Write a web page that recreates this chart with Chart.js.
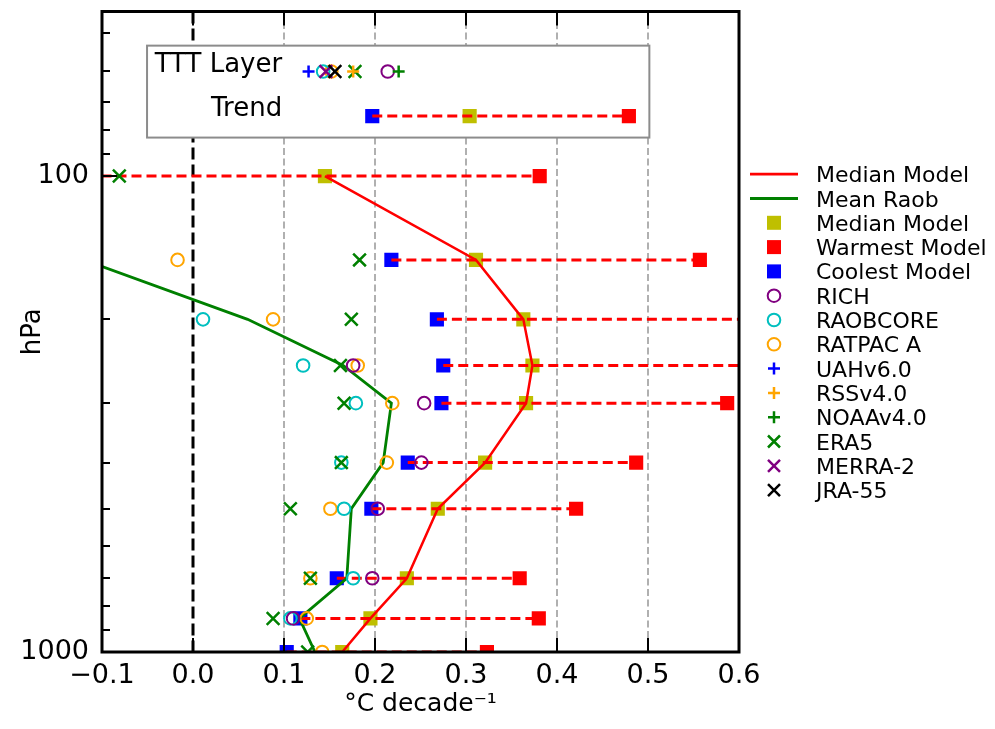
<!DOCTYPE html>
<html><head><meta charset="utf-8">
<script src="https://cdn.jsdelivr.net/npm/chart.js@4.4.1/dist/chart.umd.min.js"></script>
<style>html,body{margin:0;padding:0;background:#fff;}#wrap{width:995px;height:729px;}</style>
</head><body><div id="wrap"><canvas id="c" width="995" height="729"></canvas></div>
<script>
// ---- data (pressure levels, hPa) ----
const levels       = [100, 150, 200, 250, 300, 400, 500, 700, 850, 1000];
const medianModel  = [0.145, 0.311, 0.363, 0.373, 0.366, 0.321, 0.269, 0.235, 0.195, 0.164];
const warmestModel = [0.381, 0.557, 0.650, 0.640, 0.587, 0.487, 0.421, 0.359, 0.380, 0.323];
const coolestModel = [-0.150, 0.218, 0.268, 0.275, 0.273, 0.236, 0.196, 0.158, 0.118, 0.103];
const meanRaob     = [null, -0.120, 0.060, 0.165, 0.218, 0.209, 0.174, 0.169, 0.117, 0.134];
const rich         = [null, null, null, 0.176, 0.254, 0.251, 0.203, 0.197, 0.110, null];
const raobcore     = [null, null, 0.011, 0.121, 0.179, 0.163, 0.166, 0.176, 0.107, null];
const ratpac       = [null, -0.017, 0.088, 0.181, 0.219, 0.213, 0.151, 0.129, 0.125, 0.142];
const era5         = [-0.081, 0.183, 0.174, 0.162, 0.166, 0.163, 0.107, 0.129, 0.088, 0.126];

// TTT layer trends (inset)
const tttModelTrend = [0.197, 0.304, 0.479];   // coolest, median, warmest
const tttObsNames   = ['UAHv6.0', 'RSSv4.0', 'NOAAv4.0', 'RICH', 'RAOBCORE', 'RATPAC A', 'ERA5', 'MERRA-2', 'JRA-55'];
const tttObsValues  = [0.127, 0.176, 0.226, 0.214, 0.143, 0.152, 0.178, 0.146, 0.156];

// tick labels
const xTickStep   = 0.1;
const yTickValues = [50, 60, 70, 80, 90, 100, 200, 300, 400, 500, 600, 700, 800, 900, 1000];
const yLabelValues = [100, 1000];

// ---- layout constants (inset rows in pressure coordinates) ----
const TTT_OBS_P = 60.3, TTT_TREND_P = 74.8;
const INSET_BOX = {x0: -0.0505, x1: 0.5015, pTop: 53.2, pBot: 83};
const INSET_TEXT_X = 0.098;

const FONT = '"DejaVu Sans", "Liberation Sans", sans-serif';
const OLIVE = '#bfbf00', RED = '#ff0000', BLUE = '#0000ff', PURPLE = '#800080',
      CYAN = '#00bfbf', ORANGE = '#ffa500', GREEN = '#008000', BLACK = '#000000';

function pts(vals) {
  const out = [];
  vals.forEach((v, i) => { if (v !== null) out.push({x: v, y: levels[i]}); });
  return out;
}
function tttVal(name) { return tttObsValues[tttObsNames.indexOf(name)]; }

// dashed coolest->warmest segments, profile levels + inset Trend row
const spreadSegments = [];
levels.forEach((p, i) => {
  spreadSegments.push({x: coolestModel[i], y: p}, {x: warmestModel[i], y: p}, {x: null, y: null});
});
spreadSegments.push({x: tttModelTrend[0], y: TTT_TREND_P}, {x: tttModelTrend[2], y: TTT_TREND_P});

function sq(label, color, data, order) {
  return {label, data, pointStyle: 'rect', pointRadius: 10, backgroundColor: color, borderColor: color,
          borderWidth: 0, showLine: false, order, clip: 0, legendKind: 'rect', legendColor: color};
}
function circ(label, color, data, order) {
  return {label, data, pointStyle: 'circle', pointRadius: 6.3, backgroundColor: 'rgba(0,0,0,0)', borderColor: color,
          borderWidth: 2, showLine: false, order, clip: 0, legendKind: 'circle', legendColor: color};
}
function plus(label, color, data, order) {
  return {label, data, pointStyle: 'cross', pointRadius: 6, backgroundColor: color, borderColor: color,
          borderWidth: 2.5, showLine: false, order, clip: 0, legendKind: 'plus', legendColor: color};
}
function xmark(label, color, data, order) {
  return {label, data, pointStyle: 'crossRot', pointRadius: 9, backgroundColor: color, borderColor: color,
          borderWidth: 2.5, showLine: false, order, clip: 0, legendKind: 'x', legendColor: color};
}

const datasets = [
  {label: 'Median Model', data: pts(medianModel), showLine: true, borderColor: RED, borderWidth: 2.5,
   pointRadius: 0, order: 6, clip: 0, legendKind: 'line', legendColor: RED, legendOrder: 0},
  {label: 'Mean Raob', data: pts(meanRaob), showLine: true, borderColor: GREEN, borderWidth: 2.8,
   pointRadius: 0, order: 5, clip: 0, legendKind: 'line', legendColor: GREEN, legendOrder: 1},
  {label: 'spread', data: spreadSegments, showLine: true, spanGaps: false, borderColor: RED, borderWidth: 3,
   borderDash: [10, 5], pointRadius: 0, order: 7, clip: 0},
  Object.assign(sq('Median Model', OLIVE, pts(medianModel).concat([{x: tttModelTrend[1], y: TTT_TREND_P}]), 9), {legendOrder: 2}),
  Object.assign(sq('Warmest Model', RED, pts(warmestModel).concat([{x: tttModelTrend[2], y: TTT_TREND_P}]), 10), {legendOrder: 3}),
  Object.assign(sq('Coolest Model', BLUE, pts(coolestModel).concat([{x: tttModelTrend[0], y: TTT_TREND_P}]), 8), {legendOrder: 4}),
  Object.assign(circ('RICH', PURPLE, pts(rich).concat([{x: tttVal('RICH'), y: TTT_OBS_P}]), 4), {legendOrder: 5}),
  Object.assign(circ('RAOBCORE', CYAN, pts(raobcore).concat([{x: tttVal('RAOBCORE'), y: TTT_OBS_P}]), 4), {legendOrder: 6}),
  Object.assign(circ('RATPAC A', ORANGE, pts(ratpac).concat([{x: tttVal('RATPAC A'), y: TTT_OBS_P}]), 4), {legendOrder: 7}),
  Object.assign(plus('UAHv6.0', BLUE, [{x: tttVal('UAHv6.0'), y: TTT_OBS_P}], 3), {legendOrder: 8}),
  Object.assign(plus('RSSv4.0', ORANGE, [{x: tttVal('RSSv4.0'), y: TTT_OBS_P}], 1), {legendOrder: 9}),
  Object.assign(plus('NOAAv4.0', GREEN, [{x: tttVal('NOAAv4.0'), y: TTT_OBS_P}], 3), {legendOrder: 10}),
  Object.assign(xmark('ERA5', GREEN, pts(era5).concat([{x: tttVal('ERA5'), y: TTT_OBS_P}]), 2), {legendOrder: 11}),
  Object.assign(xmark('MERRA-2', PURPLE, [{x: tttVal('MERRA-2'), y: TTT_OBS_P}], 2), {legendOrder: 12}),
  Object.assign(xmark('JRA-55', BLACK, [{x: tttVal('JRA-55'), y: TTT_OBS_P}], 0), {legendOrder: 13}),
];

function drawMarker(ctx, kind, color, cx, cy) {
  ctx.save();
  ctx.strokeStyle = color; ctx.fillStyle = color;
  if (kind === 'rect') { ctx.fillRect(cx - 7, cy - 7, 14, 14); }
  else if (kind === 'circle') { ctx.lineWidth = 2; ctx.beginPath(); ctx.arc(cx, cy, 6.3, 0, Math.PI * 2); ctx.stroke(); }
  else if (kind === 'plus') { ctx.lineWidth = 2.5; ctx.beginPath(); ctx.moveTo(cx - 6, cy); ctx.lineTo(cx + 6, cy);
    ctx.moveTo(cx, cy - 6); ctx.lineTo(cx, cy + 6); ctx.stroke(); }
  else if (kind === 'x') { ctx.lineWidth = 2.5; ctx.beginPath(); ctx.moveTo(cx - 6, cy - 6); ctx.lineTo(cx + 6, cy + 6);
    ctx.moveTo(cx - 6, cy + 6); ctx.lineTo(cx + 6, cy - 6); ctx.stroke(); }
  ctx.restore();
}

const framePlugin = {
  id: 'frame',
  beforeDatasetsDraw(chart) {
    const {ctx, chartArea: a, scales: {x, y}} = chart;
    ctx.save();
    // vertical dashed grid lines
    x.ticks.forEach(t => {
      const v = t.value;
      if (v <= x.min + 1e-9 || v >= x.max - 1e-9) return;
      const px = Math.round(x.getPixelForValue(v));
      ctx.beginPath();
      if (Math.abs(v) < 1e-9) { ctx.strokeStyle = '#000'; ctx.lineWidth = 3; ctx.setLineDash([12, 5]); }
      else { ctx.strokeStyle = '#b0b0b0'; ctx.lineWidth = 2; ctx.setLineDash([7, 3.5]); }
      ctx.moveTo(px, a.top); ctx.lineTo(px, a.bottom); ctx.stroke();
    });
    ctx.setLineDash([]);
    // inset box
    const bx0 = x.getPixelForValue(INSET_BOX.x0), bx1 = x.getPixelForValue(INSET_BOX.x1);
    const by0 = y.getPixelForValue(INSET_BOX.pTop), by1 = y.getPixelForValue(INSET_BOX.pBot);
    ctx.fillStyle = '#fff';
    ctx.fillRect(bx0, by0, bx1 - bx0, by1 - by0);
    ctx.strokeStyle = '#8c8c8c'; ctx.lineWidth = 2;
    ctx.strokeRect(bx0, by0, bx1 - bx0, by1 - by0);
    ctx.restore();
  },
  afterDatasetsDraw(chart) {
    const {ctx, chartArea: a, scales: {x, y}} = chart;
    ctx.save();
    ctx.strokeStyle = '#000';
    // inward ticks on x (bottom & top)
    ctx.lineWidth = 2;
    x.ticks.forEach(t => {
      const px = Math.round(x.getPixelForValue(t.value));
      ctx.beginPath();
      ctx.moveTo(px, a.bottom); ctx.lineTo(px, a.bottom - 14);
      ctx.moveTo(px, a.top); ctx.lineTo(px, a.top + 14);
      ctx.stroke();
    });
    // inward ticks on y (left)
    y.ticks.forEach(t => {
      const py = Math.round(y.getPixelForValue(t.value));
      const len = yLabelValues.includes(t.value) ? 15 : 8;
      ctx.beginPath(); ctx.moveTo(a.left, py); ctx.lineTo(a.left + len, py); ctx.stroke();
    });
    // frame
    ctx.lineWidth = 3;
    ctx.strokeRect(a.left, a.top, a.right - a.left, a.bottom - a.top);
    // inset texts
    ctx.fillStyle = '#000';
    ctx.font = '26px ' + FONT;
    ctx.textAlign = 'right'; ctx.textBaseline = 'alphabetic';
    const tx = x.getPixelForValue(INSET_TEXT_X);
    ctx.fillText('TTT Layer', tx, y.getPixelForValue(TTT_OBS_P));
    ctx.fillText('Trend', tx, y.getPixelForValue(TTT_TREND_P));
    ctx.restore();
  },
  afterDraw(chart) {
    const {ctx, chartArea: a} = chart;
    const entries = chart.data.datasets.filter(d => d.legendKind)
      .sort((p, q) => p.legendOrder - q.legendOrder);
    ctx.save();
    ctx.font = '22px ' + FONT;
    ctx.textAlign = 'left'; ctx.textBaseline = 'alphabetic';
    entries.forEach((d, i) => {
      const cy = a.top + 162.7 + i * 24.3;
      if (d.legendKind === 'line') {
        ctx.strokeStyle = d.legendColor; ctx.lineWidth = 2.8;
        ctx.beginPath(); ctx.moveTo(a.right + 11, cy); ctx.lineTo(a.right + 59, cy); ctx.stroke();
      } else {
        drawMarker(ctx, d.legendKind, d.legendColor, a.right + 35, cy);
      }
      ctx.fillStyle = '#000';
      ctx.fillText(d.label, a.right + 77, cy + 8);
    });
    ctx.restore();
  }
};

new Chart(document.getElementById('c'), {
  type: 'scatter',
  data: {datasets},
  options: {
    responsive: false,
    animation: false,
    events: [],
    layout: {padding: {top: 10, right: 256, bottom: 0, left: 0}},
    plugins: {legend: {display: false}, tooltip: {enabled: false}},
    scales: {
      x: {
        type: 'linear', min: -0.1, max: 0.6,
        ticks: {stepSize: xTickStep, color: '#000', font: {family: FONT, size: 27}, padding: 0,
                callback: v => (Math.abs(v) < 1e-9 ? '0.0' : Number(v).toFixed(1)).replace('-', '\u2212')},
        grid: {display: false}, border: {display: false},
        title: {display: true, text: '°C decade⁻¹', color: '#000', font: {family: FONT, size: 25},
                padding: {top: 0, bottom: 10}},
        afterFit: s => { s.height = 77; s.paddingLeft = 0; s.paddingRight = 0; }
      },
      y: {
        type: 'logarithmic', reverse: true, min: 45.1, max: 1000, bounds: 'data',
        afterBuildTicks: s => { s.ticks = yTickValues.map(v => ({value: v})); },
        ticks: {autoSkip: false, color: '#000', font: {family: FONT, size: 27}, padding: 5,
                callback: v => (yLabelValues.includes(v) ? String(v) : '')},
        grid: {display: false}, border: {display: false},
        title: {display: true, text: 'hPa', color: '#000', font: {family: FONT, size: 26},
                padding: {top: 18, bottom: 0}},
        afterFit: s => { s.width = 102; s.paddingTop = 0; s.paddingBottom = 0; }
      }
    }
  },
  plugins: [framePlugin]
});
</script>
</body></html>
